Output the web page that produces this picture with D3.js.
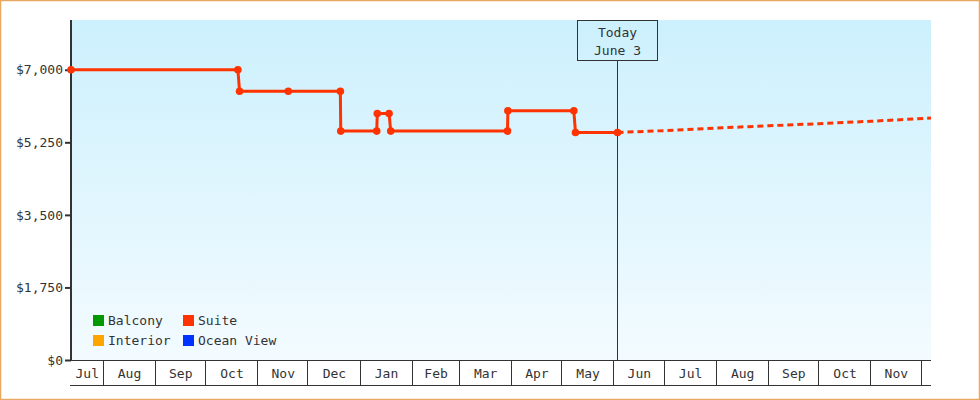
<!DOCTYPE html>
<html><head><meta charset="utf-8">
<script src="https://cdn.jsdelivr.net/npm/d3@7"></script>
<style>
html,body{margin:0;padding:0;background:#fff;}
svg{display:block;}
text{font-family:"DejaVu Sans Mono",monospace;font-size:13px;fill:#333;}
</style></head>
<body>
<svg id="chart" width="980" height="400"></svg>
<script>
// ---- data ----
const historyDates = ["2018-07-12T15:30","2018-10-20T00:00","2018-10-21T00:00","2018-11-19T00:00","2018-12-20T00:00","2018-12-20T06:00","2019-01-10T16:00","2019-01-11T00:00","2019-01-18T00:00","2019-01-19T00:00","2019-03-29T12:00","2019-03-29T18:00","2019-05-08T00:00","2019-05-09T00:00","2019-06-03T00:00"];
const historyPrices = [7000,7000,6480,6480,6480,5520,5520,5945,5945,5520,5520,6010,6010,5486,5486];
const forecastDates = ["2019-06-03T00:00","2019-07-01T00:00","2019-08-01T00:00","2019-09-01T00:00","2019-10-01T00:00","2019-11-01T00:00","2019-12-06T15:30"];
const forecastPrices = [5486,5533,5594,5650,5700,5758,5834];
const todayDate = "2019-06-03T00:00";
const todayLabel = ["Today","June 3"];
const yTicks = [0,1750,3500,5250,7000];
const yMax = 8200;
const legendNames = ["Balcony","Interior","Suite","Ocean View"];
const legendColors = ["#009900","#ffa500","#ff3300","#0033ff"];
const seriesColor = "#ff3300";

// ---- layout ----
const W = 980, H = 400;
const m = {left:71, right:49, top:20, bottom:40};
const pw = W - m.left - m.right, ph = H - m.top - m.bottom;
const parse = d3.isoParse;
const hist = historyDates.map((d,i)=>({date:parse(d), v:historyPrices[i]}));
const fore = forecastDates.map((d,i)=>({date:parse(d), v:forecastPrices[i]}));
const today = parse(todayDate);

const svg = d3.select("#chart");
const defs = svg.append("defs");
const grad = defs.append("linearGradient").attr("id","bg").attr("x1",0).attr("y1",0).attr("x2",0).attr("y2",1);
grad.append("stop").attr("offset","0%").attr("stop-color","#ccf0fd");
grad.append("stop").attr("offset","100%").attr("stop-color","#f3fbff");

svg.append("rect").attr("x",0.5).attr("y",0.5).attr("width",W-1).attr("height",H-1)
  .attr("fill","#fff").attr("stroke","#e8a862").attr("stroke-width",1.5);

const x = d3.scaleTime().domain(d3.extent(hist.concat(fore), d=>d.date)).range([m.left, m.left+pw]);
const y = d3.scaleLinear().domain([0,yMax]).range([m.top+ph, m.top]);

svg.append("rect").attr("x",m.left).attr("y",m.top).attr("width",pw).attr("height",ph).attr("fill","url(#bg)");

// x axis band
const xa = svg.append("g");
const y0 = m.top+ph, y1 = y0+25;
xa.append("line").attr("x1",m.left-1).attr("x2",m.left+pw).attr("y1",y0+0.5).attr("y2",y0+0.5).attr("stroke","#333");
xa.append("line").attr("x1",m.left-1).attr("x2",m.left+pw).attr("y1",y1+0.5).attr("y2",y1+0.5).attr("stroke","#333");
const months = x.ticks(d3.timeMonth.every(1)).filter(d=>x(d)>m.left+1 && x(d)<m.left+pw);
months.forEach(d=>{
  const px = Math.round(x(d))-0.5;
  xa.append("line").attr("x1",px).attr("x2",px).attr("y1",y0).attr("y2",y1).attr("stroke","#333");
});
const bounds = [x.domain()[0]].concat(months).concat([x.domain()[1]]);
for(let i=0;i<bounds.length-1;i++){
  const a = x(bounds[i]), b = x(bounds[i+1]);
  if(b-a < 28) continue;
  const lab = d3.timeMonth.floor(new Date(+bounds[i]+3600000));
  xa.append("text").attr("x",(a+b)/2).attr("y",(y0+y1)/2+1).attr("text-anchor","middle")
    .attr("dominant-baseline","central").text(d3.timeFormat("%b")(lab));
}

// y axis
const ya = svg.append("g").attr("transform",`translate(${m.left},0)`)
  .call(d3.axisLeft(y).tickValues(yTicks).tickSize(6).tickPadding(2).tickFormat(v=>"$"+d3.format(",")(v)));
ya.select(".domain").remove();
ya.selectAll(".tick line").attr("stroke","#333").attr("stroke-width",2);
ya.selectAll(".tick text").style("font-family",'"DejaVu Sans Mono",monospace').style("font-size","13px").attr("fill","#333");
svg.append("line").attr("x1",m.left).attr("x2",m.left).attr("y1",m.top).attr("y2",y0+1).attr("stroke","#333").attr("stroke-width",2);

// today marker
const tx = Math.round(x(today))+0.5;
svg.append("line").attr("x1",tx).attr("x2",tx).attr("y1",60).attr("y2",y0).attr("stroke","#333");
svg.append("rect").attr("x",tx-40).attr("y",20.5).attr("width",80).attr("height",40).attr("fill","none").attr("stroke","#333");
svg.append("text").attr("x",tx).attr("y",32).attr("text-anchor","middle").attr("dominant-baseline","central").text(todayLabel[0]);
svg.append("text").attr("x",tx).attr("y",50).attr("text-anchor","middle").attr("dominant-baseline","central").text(todayLabel[1]);

// lines
const line = d3.line().x(d=>x(d.date)).y(d=>y(d.v));
svg.append("path").datum(fore).attr("d",line).attr("fill","none").attr("stroke",seriesColor)
  .attr("stroke-width",3).attr("stroke-dasharray","6,4");
svg.append("path").datum(hist).attr("d",line).attr("fill","none").attr("stroke",seriesColor).attr("stroke-width",3);
svg.append("g").selectAll("circle").data(hist).join("circle")
  .attr("cx",d=>x(d.date)).attr("cy",d=>y(d.v)).attr("r",3.8).attr("fill",seriesColor);

// legend
const lg = svg.append("g");
legendNames.forEach((n,i)=>{
  const col = Math.floor(i/2), row = i%2;
  const lx = 93 + col*90, ly = 315 + row*20;
  lg.append("rect").attr("x",lx).attr("y",ly).attr("width",11).attr("height",11).attr("fill",legendColors[i]);
  lg.append("text").attr("x",lx+15).attr("y",ly+5.5).attr("dominant-baseline","central").text(n);
});
</script>
</body></html>
